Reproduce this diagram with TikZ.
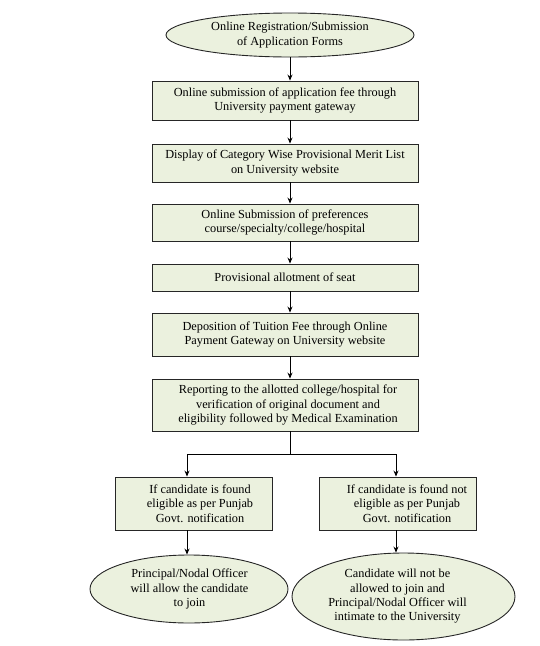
\documentclass[tikz,border=0pt]{standalone}
\usepackage{fontspec}
\setmainfont{Liberation Serif}
\usetikzlibrary{shapes.geometric,arrows.meta,calc}
\definecolor{boxfill}{HTML}{EBF1DE}
\tikzset{
  base/.style={draw=black!85, line width=0.9pt, fill=boxfill, inner sep=0pt},
  procbox/.style={base, rectangle},
  oval/.style={base, ellipse},
  txt/.style={align=center, font=\fontsize{12.3}{14.3}\selectfont},
  arr/.style={-{Stealth[length=6pt,width=5pt]}, line width=0.8pt, black},
  ln/.style={line width=0.8pt, black}
}
\begin{document}
\begin{tikzpicture}[x=1pt,y=-1pt]
\useasboundingbox (0,0) rectangle (539,646);
\node[oval, minimum width=248, minimum height=44] (top) at (290,35) {};
\node[txt] at (290,35) {Online Registration/Submission\\of Application Forms};
\node[procbox, minimum width=266, minimum height=39] (b1) at (285,100.5) {};
\node[txt] at (285,100.5) {Online submission of application fee through\\University payment gateway};
\node[procbox, minimum width=266, minimum height=38] (b2) at (285,163) {};
\node[txt] at (285,163) {Display of Category Wise Provisional Merit List\\on University website};
\node[procbox, minimum width=266, minimum height=37] (b3) at (285,222.5) {};
\node[txt] at (285,222.5) {Online Submission of preferences\\course/specialty/college/hospital};
\node[procbox, minimum width=266, minimum height=27] (b4) at (285,277.5) {};
\node[txt] at (285,277.5) {Provisional allotment of seat};
\node[procbox, minimum width=266, minimum height=43] (b5) at (285,334.5) {};
\node[txt] at (285,334.5) {Deposition of Tuition Fee through Online\\Payment Gateway on University website};
\node[procbox, minimum width=266, minimum height=52] (b6) at (285,405) {};
\node[txt] at (288,405) {Reporting to the allotted college/hospital for\\verification of original document and\\eligibility followed by Medical Examination};
\node[procbox, minimum width=157, minimum height=53] (lb) at (193.5,503.5) {};
\node[txt] at (200,503.5) {If candidate is found\\eligible as per Punjab\\Govt. notification};
\node[procbox, minimum width=157, minimum height=53] (rb) at (397.5,503.5) {};
\node[txt] at (407,503.5) {If candidate is found not\\eligible as per Punjab\\Govt. notification};
\node[oval, minimum width=198, minimum height=68] (le) at (189,589) {};
\node[txt] at (189.5,589) {Principal/Nodal Officer\\will allow the candidate\\to join};
\node[oval, minimum width=223, minimum height=87] (re) at (403.5,596.5) {};
\node[txt] at (397.5,596.5) {Candidate will not be\\allowed to join and\\Principal/Nodal Officer will\\intimate to the University};
\coordinate (jl) at (187,454);
\coordinate (jr) at (396,454);
\coordinate (jm) at (290,454);
\draw[arr] (top.south) -- (b1.north -| top.south);
\draw[arr] (b1.south -| top.south) -- (b2.north -| top.south);
\draw[arr] (b2.south -| top.south) -- (b3.north -| top.south);
\draw[arr] (b3.south -| top.south) -- (b4.north -| top.south);
\draw[arr] (b4.south -| top.south) -- (b5.north -| top.south);
\draw[arr] (b5.south -| top.south) -- (b6.north -| top.south);
\draw[ln] (b6.south -| top.south) -- (jm);
\draw[ln] (jl) -- (jr);
\draw[arr] (jl) -- (jl |- lb.north);
\draw[arr] (jr) -- (jr |- rb.north);
\draw[arr] (lb.south -| jl) -- (jl |- le.north);
\draw[arr] (rb.south -| jr) -- (jr |- re.north);
\end{tikzpicture}
\end{document}
